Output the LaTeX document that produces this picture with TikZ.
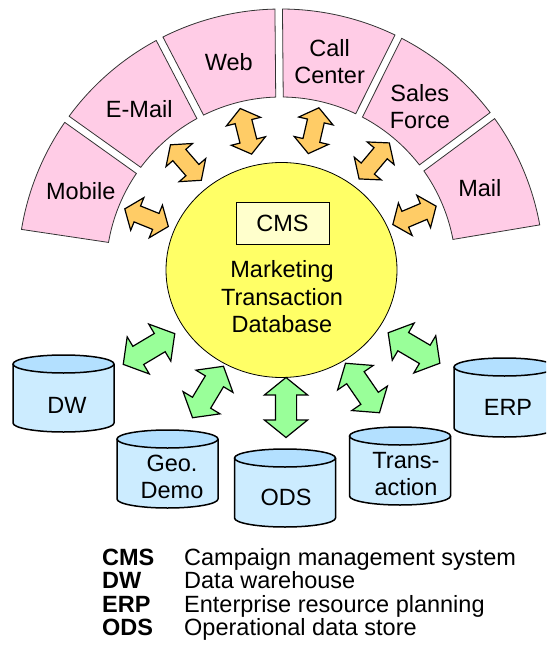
\documentclass[tikz,border=0pt]{standalone}
\usepackage{fontspec}
\setmainfont{Liberation Sans}
\usetikzlibrary{shapes.geometric,shapes.arrows}

\definecolor{chanpink}{HTML}{FFCCE6}
\definecolor{dbyellow}{HTML}{FFFF66}
\definecolor{cmsyellow}{HTML}{FFFFCC}
\definecolor{arrorange}{HTML}{FFCC66}
\definecolor{arrgreen}{HTML}{99FF99}
\definecolor{canblue}{HTML}{CCECFF}
\definecolor{canend}{HTML}{B3E0FF}

\tikzset{
  lbl/.style={font=\fontsize{23.5}{27.5}\selectfont, align=center, inner sep=0pt},
  channel/.style={draw=black!80, line width=0.8pt, fill=chanpink},
  dbdisc/.style={ellipse, draw, line width=0.8pt, fill=dbyellow, minimum width=231pt, minimum height=215pt, inner sep=0pt},
  cmsbox/.style={lbl, draw, line width=0.8pt, fill=cmsyellow, minimum width=93pt, minimum height=42pt},
  linkarrow/.style={double arrow, draw, line width=1.2pt, inner xsep=0pt},
  chanarrow/.style={linkarrow, fill=arrorange, minimum height=47pt, inner ysep=8pt, double arrow head extend=9pt, double arrow tip angle=105},
  srcarrow/.style={linkarrow, fill=arrgreen, minimum height=60pt, inner ysep=10pt, double arrow head extend=11pt, double arrow tip angle=102},
  canside/.style={draw, line width=1.5pt, fill=canblue},
  cantop/.style={draw, line width=1.5pt, fill=canend}
}

% database can: centre x, top y, bottom y
\newcommand{\dbcan}[3]{%
  \filldraw[canside] (#1-50.5,#2-9) -- (#1-50.5,#3+9) arc[start angle=180, end angle=360, x radius=50.5pt, y radius=9pt] -- (#1+50.5,#2-9);
  \filldraw[cantop] (#1,#2-9) ellipse[x radius=50.5pt, y radius=9pt];
}

\begin{document}
\begin{tikzpicture}[x=1pt,y=1pt]
\useasboundingbox (0,0) rectangle (546,-658);
\clip (0,0) rectangle (546,-658);
\coordinate (c) at (281,-272);

% channels round the top
\foreach \a/\n/\t in {158/mobile/Mobile, 131/email/E-Mail, 104/web/Web, 77/call/{Call\\Center}, 50/sales/{Sales\\Force}, 23/mail/Mail}{
  \draw[channel] ([shift={(\a-12.27:175)}]c) arc[start angle=\a-12.27, end angle=\a+12.27, radius=175pt]
    -- ([shift={(\a+12.68:263)}]c) arc[start angle=\a+12.68, end angle=\a-12.68, radius=263pt] -- cycle;
  \node[lbl] (\n) at ([shift={(\a:216)}]c) {\t};
  \node[chanarrow, rotate=\a] (a-\n) at ([shift={(\a:145)}]c) {};
}

% marketing transaction database
\node[dbdisc] (mtd) at (281.5,-270) {};
\node[cmsbox] (cms) at (282.5,-223) {CMS};
\node[lbl] (mtdtext) at (282,-297) {Marketing\\Transaction\\Database};

% data sources
\dbcan{63.5}{-355}{-432}
\node[lbl] (dw) at (67,-405) {DW};
\dbcan{167.5}{-430}{-508}
\node[lbl] (geo) at (172,-477) {Geo.\\Demo};
\dbcan{285}{-449}{-527}
\node[lbl] (ods) at (286,-497) {ODS};
\dbcan{400}{-427}{-505}
\node[lbl] (trans) at (406,-474) {Trans-\\action};
\dbcan{504.5}{-358}{-437}
\node[lbl] (erp) at (508,-407) {ERP};

\node[srcarrow, rotate=30.8] (a-dw) at (149,-349) {};
\node[srcarrow, rotate=59] (a-geo) at (208,-392) {};
\node[srcarrow, rotate=90] (a-ods) at (286,-407.5) {};
\node[srcarrow, rotate=-55.5] (a-trans) at (362.5,-388) {};
\node[srcarrow, rotate=-30.5] (a-erp) at (414,-348) {};

% legend
\foreach \k/\d [count=\i from 0] in {CMS/Campaign management system, DW/Data warehouse, ERP/Enterprise resource planning, ODS/Operational data store}{
  \node[lbl, anchor=base west, font=\fontsize{23.5}{27.5}\selectfont\bfseries] (key-\k) at (102,-565-23.6*\i) {\k};
  \node[lbl, anchor=base west] (def-\k) at (184,-565-23.6*\i) {\d};
}
\end{tikzpicture}
\end{document}
